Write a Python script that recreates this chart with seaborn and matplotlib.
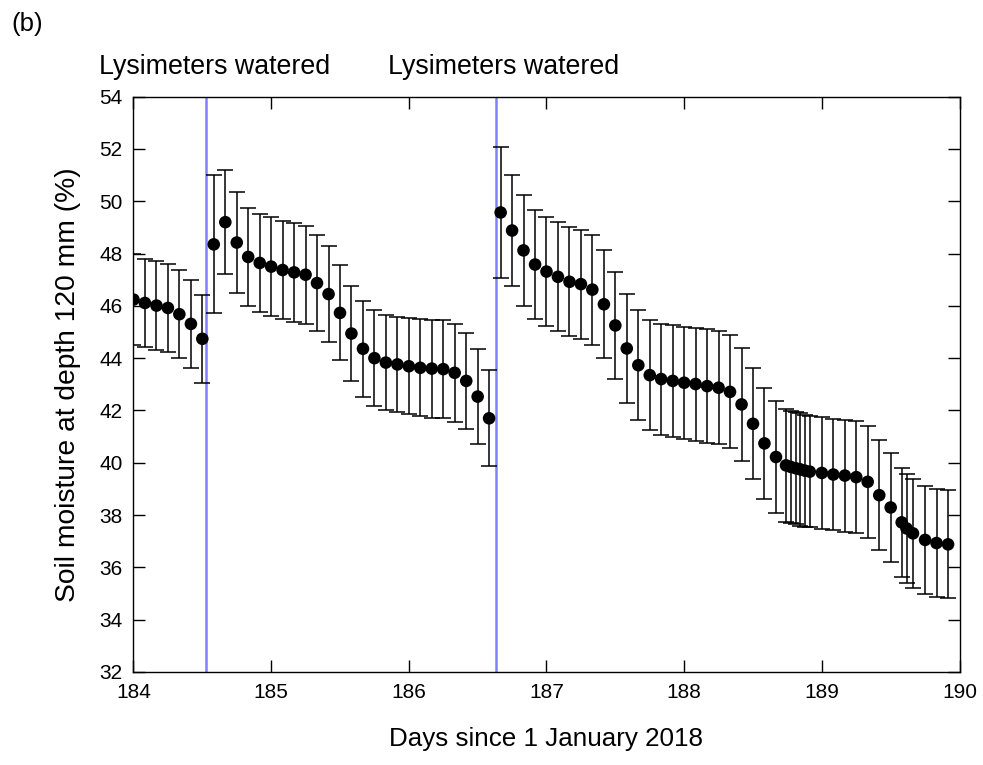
import matplotlib
matplotlib.use("Agg")
import matplotlib.pyplot as plt
import numpy as np
import pandas as pd
import seaborn as sns

# Soil moisture at 120 mm depth: mean and spread across lysimeters
days_a = [184.000, 184.083, 184.167, 184.250, 184.333, 184.417, 184.500]
moist_a = [46.24, 46.11, 46.01, 45.92, 45.68, 45.31, 44.74]
err_a = [1.74, 1.68, 1.69, 1.69, 1.68, 1.67, 1.68]

days_b = [184.583, 184.667, 184.750, 184.833, 184.917, 185.000, 185.083,
          185.167, 185.250, 185.333, 185.417, 185.500, 185.583, 185.667,
          185.750, 185.833, 185.917, 186.000, 186.083, 186.167, 186.250,
          186.333, 186.417, 186.500, 186.583]
moist_b = [48.35, 49.20, 48.42, 47.87, 47.64, 47.50, 47.37, 47.28, 47.19,
           46.87, 46.45, 45.73, 44.94, 44.36, 44.00, 43.83, 43.76, 43.69,
           43.63, 43.60, 43.58, 43.44, 43.13, 42.53, 41.70]
err_b = [2.64, 2.00, 1.94, 1.89, 1.88, 1.89, 1.88, 1.88, 1.87, 1.85, 1.84,
         1.82, 1.82, 1.83, 1.83, 1.83, 1.83, 1.84, 1.85, 1.87, 1.88, 1.87,
         1.84, 1.83, 1.83]

days_c = [186.667, 186.750, 186.833, 186.917, 187.000, 187.083, 187.167,
          187.250, 187.333, 187.417, 187.500, 187.583, 187.667, 187.750,
          187.833, 187.917, 188.000, 188.083, 188.167, 188.250, 188.333,
          188.417, 188.500, 188.583, 188.667, 188.740, 188.775, 188.810,
          188.842, 188.876, 188.912, 189.000, 189.083, 189.167, 189.250,
          189.333, 189.417, 189.500, 189.580, 189.615, 189.662, 189.750,
          189.833, 189.917]
moist_c = [49.57, 48.88, 48.12, 47.58, 47.31, 47.11, 46.92, 46.83, 46.62,
           46.06, 45.25, 44.37, 43.73, 43.35, 43.20, 43.13, 43.06, 43.01,
           42.93, 42.87, 42.71, 42.23, 41.49, 40.74, 40.22, 39.90, 39.84,
           39.79, 39.75, 39.70, 39.66, 39.61, 39.55, 39.51, 39.45, 39.27,
           38.76, 38.29, 37.72, 37.49, 37.30, 37.05, 36.93, 36.88]
err_c = [2.51, 2.14, 2.12, 2.07, 2.09, 2.08, 2.08, 2.08, 2.10, 2.06, 2.06,
         2.07, 2.10, 2.11, 2.12, 2.14, 2.15, 2.16, 2.17, 2.16, 2.16, 2.16,
         2.13, 2.13, 2.13, 2.15, 2.15, 2.15, 2.15, 2.14, 2.13, 2.13, 2.14,
         2.14, 2.15, 2.13, 2.11, 2.10, 2.08, 2.08, 2.08, 2.07, 2.06, 2.06]

watering_days = [184.53, 186.63]
watering_label = "Lysimeters watered"

x_ticks = [184, 185, 186, 187, 188, 189, 190]
y_ticks = [32, 34, 36, 38, 40, 42, 44, 46, 48, 50, 52, 54]

df = pd.DataFrame({
    "day": days_a + days_b + days_c,
    "moisture": moist_a + moist_b + moist_c,
    "err": err_a + err_b + err_c,
})

sns.set_theme(style="ticks")
plt.rcParams["font.family"] = ["Liberation Sans", "DejaVu Sans"]
plt.rcParams.update({
    "axes.linewidth": 1.0,
    "xtick.direction": "in",
    "ytick.direction": "in",
    "xtick.top": True,
    "ytick.right": True,
    "xtick.major.size": 8.4,
    "ytick.major.size": 8.4,
    "xtick.major.width": 1.0,
    "ytick.major.width": 1.0,
    "xtick.color": "black",
    "ytick.color": "black",
    "xtick.labelcolor": "black",
    "ytick.labelcolor": "black",
    "axes.edgecolor": "black",
    "axes.labelcolor": "black",
    "text.color": "black",
})

fig = plt.figure(figsize=(9.83, 7.65), dpi=100)
ax = fig.add_axes([0.1358, 0.1216, 0.8403, 0.7521])

# watering events
for d in watering_days:
    ax.axvline(d, color="#8080ff", lw=1.8, zorder=1)
    ax.annotate(watering_label, xy=(d, 1), xycoords=("data", "axes fraction"),
                xytext=(6, 16.5), textcoords="offset points",
                ha="center", va="baseline", fontsize=19.3, color="black",
                annotation_clip=False)

ax.errorbar(df["day"], df["moisture"], yerr=df["err"], fmt="none",
            ecolor="black", elinewidth=1.1, capsize=5.8, capthick=1.1, zorder=2)
sns.scatterplot(data=df, x="day", y="moisture", ax=ax, color="black",
                s=82, edgecolor="none", zorder=3, legend=False)

ax.set_xlim(184, 190)
ax.set_ylim(32, 54)
ax.set_xticks(x_ticks)
ax.set_yticks(y_ticks)
ax.tick_params(axis="both", labelsize=15, pad=8, colors="black")
ax.tick_params(axis="y", pad=8)
ax.set_xlabel("Days since 1 January 2018", fontsize=18.7, labelpad=18)
ax.set_ylabel("Soil moisture at depth 120 mm (%)", fontsize=20.3, labelpad=13)

fig.text(0.012, 0.984, "(b)", fontsize=18.5, ha="left", va="top")

fig.savefig("out.png", dpi=100)
